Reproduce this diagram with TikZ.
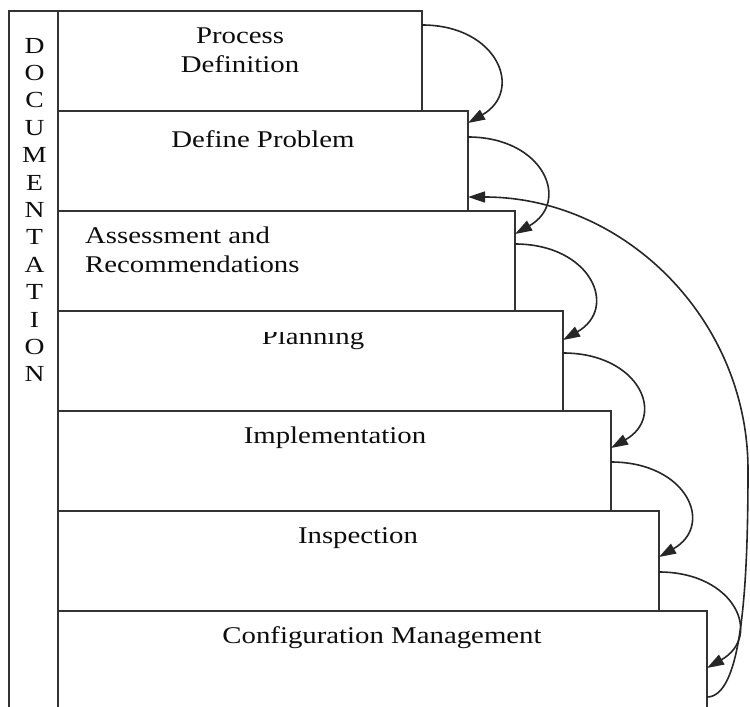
\documentclass[tikz,border=0pt]{standalone}
\usepackage{fontspec}
\setmainfont{Liberation Serif}
\usepackage{graphicx}
\usetikzlibrary{arrows.meta,calc}
\newcommand{\wtxt}[1]{\scalebox{1.2}[1]{#1}}
\begin{document}
\begin{tikzpicture}[x=1pt,y=-1pt,
  box/.style={draw=black!80, line width=2pt, fill=white, inner sep=0pt, outer sep=0pt, anchor=north west, minimum height=100pt},
  lbl/.style={inner sep=0pt, text=black!95, font=\fontsize{24}{29.5}\selectfont},
  flow/.style={draw=black!85, line width=1.6pt, -{Triangle[length=17pt,width=11pt]}}]
\useasboundingbox (0,0) rectangle (750,707);
\clip (0,0) rectangle (750,707);
% documentation column
\node[box, minimum width=49pt, minimum height=720pt] (doc) at (9,11) {};
\node[inner sep=0pt, anchor=base, text=black!95, font=\fontsize{23}{27.4}\selectfont] (doctxt) at (34.5,53)
  {\scalebox{1.2}[1]{\begin{tabular}[t]{@{}c@{}}D\\O\\C\\U\\M\\E\\N\\T\\A\\T\\I\\O\\N\end{tabular}}};
% stair boxes
\node[box, minimum width=364pt] (b1) at (58,11) {};
\node[box, minimum width=410pt] (b2) at (58,111) {};
\node[box, minimum width=457pt] (b3) at (58,211) {};
\node[box, minimum width=505pt] (b4) at (58,311) {};
\node[box, minimum width=553pt] (b5) at (58,411) {};
\node[box, minimum width=601pt] (b6) at (58,511) {};
\node[box, minimum width=649pt, minimum height=110pt] (b7) at (58,611) {};
% labels
\node[lbl, anchor=base] (l1) at (240,43) {\begin{tabular}[t]{@{}c@{}}\wtxt{Process}\\\wtxt{Definition}\end{tabular}};
\node[lbl, anchor=base] (l2) at (263,147) {\wtxt{Define Problem}};
\node[lbl, anchor=base west] (l3) at (85,243) {\begin{tabular}[t]{@{}l@{}}\wtxt{Assessment and}\\\wtxt{Recommendations}\end{tabular}};
\begin{scope}
\clip (58,332.5) rectangle (563,410);
\node[lbl, anchor=base] (l4) at (313,344) {\wtxt{Planning}};
\end{scope}
\node[lbl, anchor=base] (l5) at (335,443) {\wtxt{Implementation}};
\node[lbl, anchor=base] (l6) at (358,543) {\wtxt{Inspection}};
\node[lbl, anchor=base] (l7) at (382,643) {\wtxt{Configuration Management}};
% step arrows
\draw[flow] ($(b1.north east)+(0,14)$) .. controls +(76,0) and +(56,-32) .. ($(b2.north east)+(0,12)$);
\draw[flow] ($(b2.north east)+(0,26)$) .. controls +(76,0) and +(56,-32) .. ($(b3.north east)+(0,23)$);
\draw[flow] ($(b3.north east)+(0,33)$) .. controls +(76,0) and +(56,-32) .. ($(b4.north east)+(0,29)$);
\draw[flow] ($(b4.north east)+(0,42)$) .. controls +(76,0) and +(56,-32) .. ($(b5.north east)+(0,37)$);
\draw[flow] ($(b5.north east)+(0,51)$) .. controls +(76,0) and +(56,-32) .. ($(b6.north east)+(0,46)$);
\draw[flow] ($(b6.north east)+(0,61)$) .. controls +(76,0) and +(56,-32) .. ($(b7.north east)+(0,57)$);
% feedback arrow
\coordinate (fb) at (748,470);
\draw[flow] ($(b7.north east)+(0,86)$) .. controls (740,697) and (748,600) .. (fb)
  .. controls (748,319) and (624,197) .. ($(b2.north east)+(0,86)$);
\end{tikzpicture}
\end{document}
